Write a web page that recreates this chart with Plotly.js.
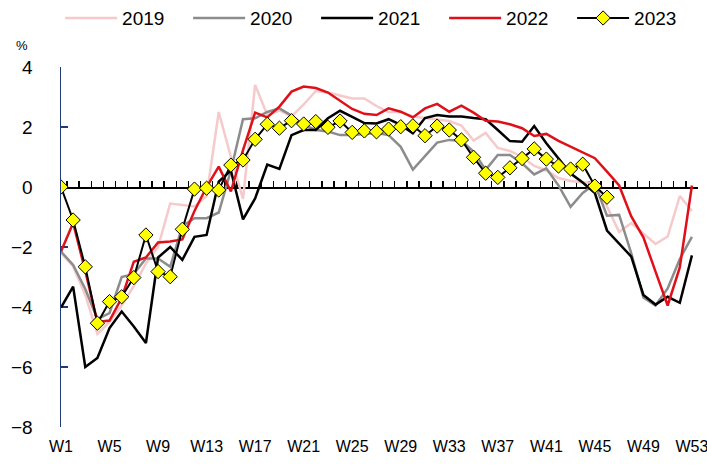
<!DOCTYPE html>
<html>
<head>
<meta charset="utf-8">
<script src="https://cdn.plot.ly/plotly-3.0.1.min.js"></script>
<style>
html,body{margin:0;padding:0;background:#fff;}
#chart{width:707px;height:465px;}
</style>
</head>
<body>
<div id="chart"></div>
<script>
// Week index 1..53
const weeks = Array.from({length: 53}, (_, i) => i + 1);
const weekTickVals = [1, 5, 9, 13, 17, 21, 25, 29, 33, 37, 41, 45, 49, 53];
const weekTickText = ["W1","W5","W9","W13","W17","W21","W25","W29","W33","W37","W41","W45","W49","W53"];

const s2019 = [-2.2,-2.65,-3.6,-4.9,-4.5,-3.95,-3.3,-2.55,-2.0,-0.55,-0.6,-0.65,-0.3,2.5,1.0,-0.4,3.4,2.4,2.55,2.35,2.75,3.2,3.15,3.05,2.95,2.95,2.7,2.5,2.5,2.35,2.3,2.25,2.2,2.05,1.55,1.8,1.3,1.2,1.0,0.7,0.55,0.3,0.2,0.15,0.15,-0.65,-1.5,-1.2,-1.55,-1.9,-1.65,-0.3,-0.8];
const s2020 = [-2.15,-2.6,-3.4,-4.4,-4.2,-3.0,-2.9,-2.38,-2.38,-2.66,-1.3,-1.04,-1.04,-0.85,0.55,2.26,2.29,2.5,2.62,2.38,2.07,1.9,1.85,1.73,1.73,1.77,1.8,1.73,1.34,0.58,1.03,1.48,1.57,1.54,1.18,0.57,1.07,1.07,0.79,0.42,0.62,0.05,-0.66,-0.2,0.1,-0.96,-0.93,-2.21,-3.68,-3.95,-3.38,-2.4,-1.66];
const s2021 = [-4.02,-3.32,-6.0,-5.7,-4.7,-4.15,-4.65,-5.2,-2.35,-2.0,-2.43,-1.66,-1.6,0.18,0.55,-1.08,-0.38,0.75,0.6,1.73,1.9,1.9,2.29,2.54,2.34,2.13,2.12,2.26,2.07,1.79,2.3,2.4,2.35,2.35,2.3,2.26,1.9,1.53,1.51,2.03,1.46,0.96,0.45,0.15,-0.2,-1.45,-1.88,-2.32,-3.6,-3.92,-3.66,-3.86,-2.28];
const s2022 = [-2.15,-1.2,-2.8,-4.5,-4.45,-3.7,-2.49,-2.35,-1.85,-1.82,-1.75,-0.8,0.0,0.68,-0.15,1.23,2.48,2.32,2.68,3.18,3.35,3.3,3.15,2.87,2.6,2.44,2.4,2.62,2.51,2.32,2.62,2.77,2.51,2.71,2.48,2.21,2.18,2.09,1.96,1.7,1.77,1.54,1.34,1.14,0.96,0.51,0.05,-0.98,-1.68,-2.82,-3.95,-2.68,0.05];
const s2023 = [0.0,-1.1,-2.66,-4.54,-3.82,-3.66,-3.02,-1.6,-2.82,-2.99,-1.41,-0.07,-0.04,-0.1,0.73,0.9,1.59,2.09,1.96,2.21,2.1,2.18,1.99,2.2,1.82,1.87,1.84,1.93,2.01,2.04,1.71,2.03,1.9,1.57,0.99,0.46,0.32,0.64,0.95,1.27,0.93,0.7,0.6,0.76,0.03,-0.34];

const seriesNames = ["2019","2020","2021","2022","2023"];
const yTicks = [-8,-6,-4,-2,0,2,4];

const FONT = "'Liberation Sans', Arial, sans-serif";
const minorTicks = Array.from({length: 53}, (_, i) => i + 1.5);

const data = [
  {x: weeks, y: s2019, name: seriesNames[0], type: 'scatter', mode: 'lines', line: {color: '#F6C9CB', width: 2.5}},
  {x: weeks, y: s2020, name: seriesNames[1], type: 'scatter', mode: 'lines', line: {color: '#8C8C8C', width: 2.5}},
  {x: weeks, y: s2021, name: seriesNames[2], type: 'scatter', mode: 'lines', line: {color: '#000000', width: 2.5}},
  {x: weeks, y: s2022, name: seriesNames[3], type: 'scatter', mode: 'lines', line: {color: '#E0101A', width: 2.5}},
  {x: weeks.slice(0, s2023.length), y: s2023, name: seriesNames[4], type: 'scatter', mode: 'lines+markers',
   line: {color: '#000000', width: 2},
   marker: {symbol: 'diamond', size: 11, color: '#FFFF00', line: {color: '#000000', width: 1}}}
];

const layout = {
  width: 707, height: 465,
  margin: {l: 61, r: 9, t: 67, b: 38},
  paper_bgcolor: '#ffffff', plot_bgcolor: '#ffffff',
  font: {family: FONT, size: 18, color: '#000'},
  showlegend: true,
  legend: {
    orientation: 'h', xref: 'container', yref: 'container',
    x: 0.085, y: 0.961, xanchor: 'left', yanchor: 'middle',
    font: {family: FONT, size: 19, color: '#000'},
    itemwidth: 52, entrywidth: 61, entrywidthmode: 'pixels',
    bgcolor: 'rgba(0,0,0,0)', traceorder: 'normal'
  },
  xaxis: {
    range: [1, 53.5], showgrid: false, zeroline: false, showline: false,
    tickmode: 'array', tickvals: weekTickVals, ticktext: weekTickText,
    ticks: '', ticklabelstandoff: 8, ticklabeloverflow: 'allow',
    tickfont: {family: FONT, size: 16, color: '#000'}, fixedrange: true
  },
  xaxis2: {
    overlaying: 'x', anchor: 'free', position: 8/12, side: 'bottom',
    range: [1, 53.5], showgrid: false, zeroline: false,
    showline: true, linecolor: '#000', linewidth: 1.5,
    ticks: 'inside', ticklen: 6, tickwidth: 1.5, tickcolor: '#000',
    tickmode: 'array', tickvals: minorTicks, showticklabels: false,
    layer: 'below traces'
  },
  yaxis: {
    range: [-8, 4], showgrid: false, zeroline: false,
    showline: true, linecolor: '#1F3A78', linewidth: 1.5,
    ticks: 'inside', ticklen: 7, tickwidth: 1.5, tickcolor: '#1F3A78',
    tickmode: 'array', tickvals: yTicks, ticklabelstandoff: 23,
    tickfont: {family: FONT, size: 19, color: '#000'},
    layer: 'below traces'
  },
  annotations: [{
    text: '%', xref: 'paper', yref: 'paper', x: -0.062, y: 1.06,
    xanchor: 'center', yanchor: 'middle', showarrow: false,
    font: {family: FONT, size: 13, color: '#000'}
  }]
};

// invisible trace so the zero-line axis (x2) is drawn
data.push({x: [1], y: [0], xaxis: 'x2', yaxis: 'y', mode: 'markers', marker: {opacity: 0}, showlegend: false, hoverinfo: 'skip'});

Plotly.newPlot('chart', data, layout, {displayModeBar: false, staticPlot: true});
</script>
</body>
</html>
